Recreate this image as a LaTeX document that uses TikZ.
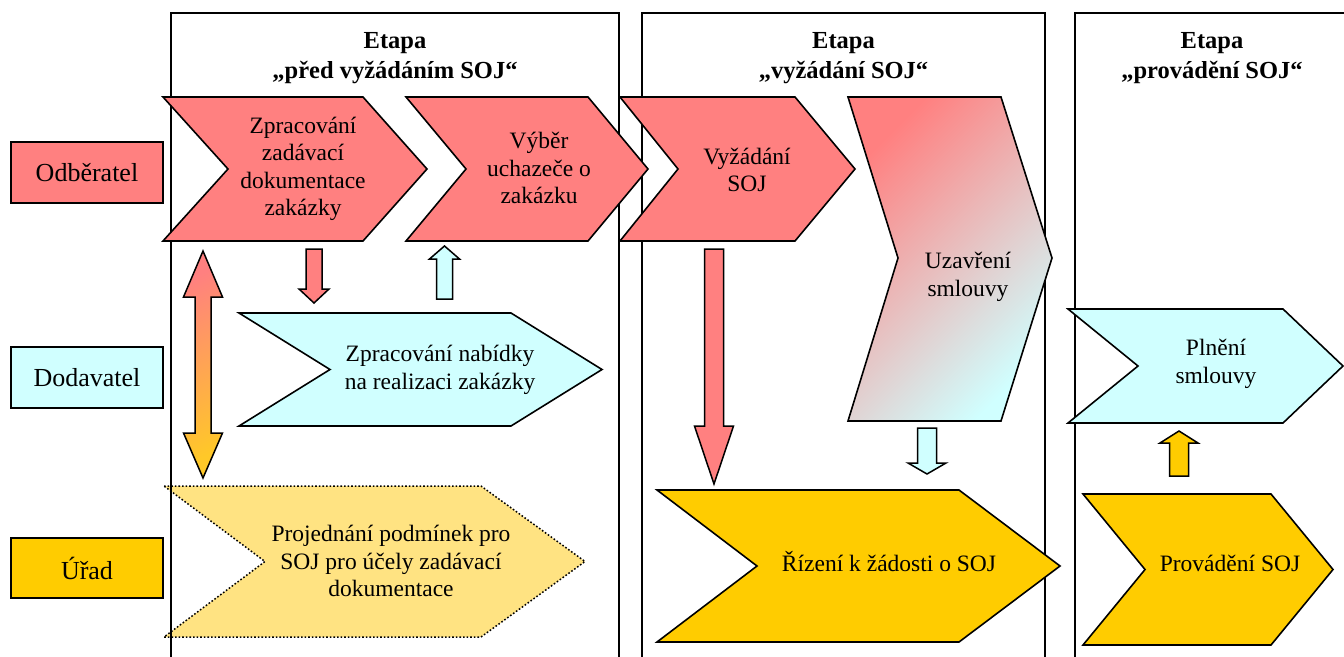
\documentclass[tikz,border=0pt]{standalone}
\usepackage{fontspec}
\setmainfont{Liberation Serif}
\usetikzlibrary{calc}
\definecolor{pinkc}{RGB}{255,128,128}
\definecolor{cyanc}{RGB}{208,255,255}
\definecolor{goldc}{RGB}{255,204,0}
\definecolor{lyellow}{RGB}{255,227,130}
\definecolor{dgold}{RGB}{255,200,40}
% chevron: left, top, bottom, top-right x, tip x, notch x
\newcommand{\chevpath}[6]{(#1,#2) -- (#4,#2) -- (#5,{(#2+#3)/2}) -- (#4,#3) -- (#1,#3) -- (#6,{(#2+#3)/2}) -- cycle}
% vertical block arrow: x, y tail, y head base, y tip, shaft half, head half
\newcommand{\varrowpath}[6]{({#1-#5},#2) -- ({#1+#5},#2) -- ({#1+#5},#3) -- ({#1+#6},#3) -- (#1,#4) -- ({#1-#6},#3) -- ({#1-#5},#3) -- cycle}
\tikzset{
  frame/.style={draw=black, line width=1.5pt},
  chev/.style={draw=black, line width=1.6pt, line join=miter},
  blockarrow/.style={draw=black, line width=1.5pt, line join=miter},
  txt/.style={font=\fontsize{23.5}{27.5}\selectfont, align=center, inner sep=0pt},
  lbl/.style={draw=black, line width=1.6pt, font=\fontsize{26}{30}\selectfont,
    minimum width=152pt, inner sep=0pt},
  ttl/.style={font=\bfseries\fontsize{24.5}{30}\selectfont, align=center, inner sep=0pt},
}
\begin{document}
\begin{tikzpicture}[x=1pt,y=-1pt]
\clip (0,0) rectangle (1344,656);
\fill[white] (0,0) rectangle (1344,656);

% lower-left chevron (under the frame line)
\path[chev, fill=lyellow, dotted, line width=1.5pt] \chevpath{164}{486}{637}{481}{585}{265};

% stage frames
\draw[frame] (171,700) -- (171,13) -- (619,13) -- (619,700);
\draw[frame] (642,700) -- (642,13) -- (1045,13) -- (1045,700);
\draw[frame] (1075,700) -- (1075,13) -- (1400,13) -- (1400,700);

% titles
\node[ttl] (t1) at (395,58) {Etapa\\„před vyžádáním SOJ“};
\node[ttl] (t2) at (843.5,58) {Etapa\\„vyžádání SOJ“};
\node[ttl] (t3) at (1212,58) {Etapa\\„provádění SOJ“};

% row labels
\node[lbl, fill=pinkc, minimum height=61pt] (odb) at (87,172.5) {Odběratel};
\node[lbl, fill=cyanc, minimum height=61pt] (dod) at (87,377.5) {Dodavatel};
\node[lbl, fill=goldc, minimum height=60pt] (urad) at (87,568) {Úřad};

% chevrons
\path[chev, fill=pinkc] \chevpath{620}{97}{241}{795}{855}{678};
\path[chev, fill=pinkc] \chevpath{163}{97}{241}{363}{427}{228};
\path[chev, fill=pinkc] \chevpath{406}{97}{241}{588}{648}{466};
\path[chev, top color=pinkc, bottom color=cyanc, shading angle=45]
  (848,97) -- (1001,97) -- (1052,258) -- (1001,421) -- (848,421) -- (898,258) -- cycle;
\path[chev, fill=cyanc] \chevpath{239}{313}{426}{511}{602}{330};
\path[chev, fill=goldc] \chevpath{657}{490}{642}{959}{1060}{757};
\path[chev, fill=cyanc] \chevpath{1068}{309}{423}{1283}{1343}{1138};
\path[chev, fill=goldc] \chevpath{1083}{494}{645}{1271}{1333}{1145};

% chevron texts
\node[txt] (a) at (303,169) {Zpracování\\zadávací\\dokumentace\\zakázky};
\node[txt] (b) at (539,168) {Výběr\\uchazeče o\\zakázku};
\node[txt] (c) at (747,170) {Vyžádání\\SOJ};
\node[txt] (d) at (968,277) {Uzavření\\smlouvy};
\node[txt] (e) at (440,370) {Zpracování nabídky\\na realizaci zakázky};
\node[txt] (f) at (391,561) {Projednání podmínek pro\\SOJ pro účely zadávací\\dokumentace};
\node[txt] (g) at (889,562) {Řízení k žádosti o SOJ};
\node[txt] (h) at (1216,364) {Plnění\\smlouvy};
\node[txt] (i) at (1230,563) {Provádění SOJ};

% block arrows
\path[blockarrow, fill=pinkc] \varrowpath{314}{249}{289}{303}{8}{15};
\path[blockarrow, fill=cyanc] \varrowpath{444.5}{299}{259}{246}{8}{15};
\path[blockarrow, fill=pinkc] \varrowpath{714}{249}{426}{484}{9.5}{19.5};
\path[blockarrow, fill=cyanc] \varrowpath{927}{428}{463}{474}{9.5}{19};
\path[blockarrow, fill=goldc] \varrowpath{1179}{476}{443}{431}{9.5}{19};
\path[blockarrow, top color=pinkc, bottom color=dgold, shading angle=25]
  (203,251) -- (222.5,297) -- (211,297) -- (211,433) -- (222.5,433) -- (203,478)
  -- (183.5,433) -- (195,433) -- (195,297) -- (183.5,297) -- cycle;
\end{tikzpicture}
\end{document}
